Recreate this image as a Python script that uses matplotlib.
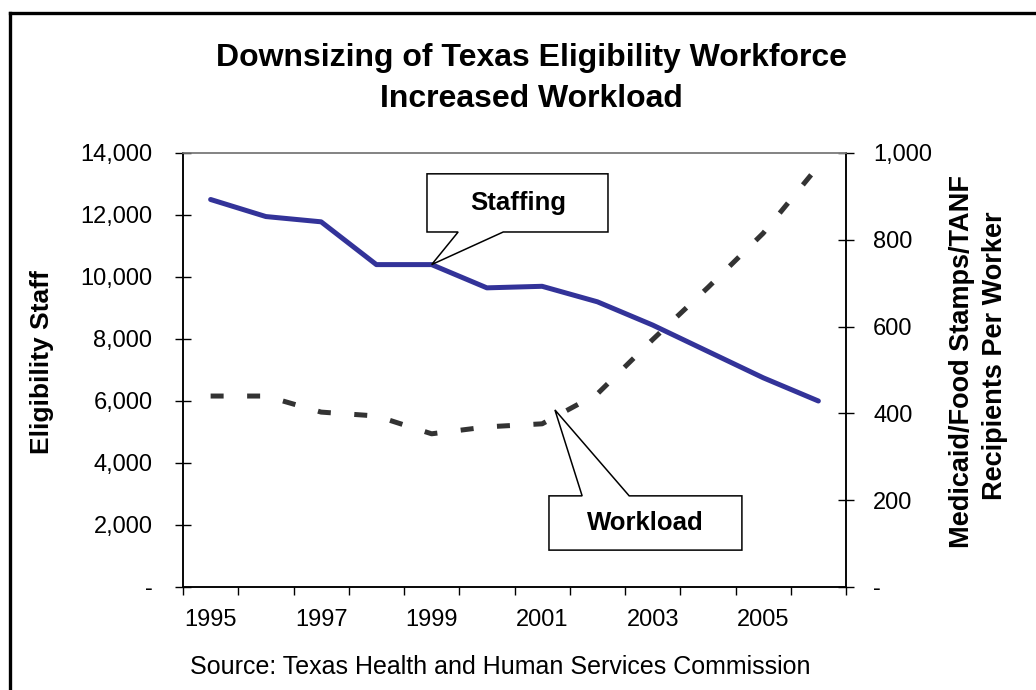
import matplotlib
matplotlib.use("Agg")
import matplotlib.pyplot as plt
from matplotlib.patches import Polygon
from matplotlib.lines import Line2D
from matplotlib.ticker import FuncFormatter

plt.rcParams['font.family'] = ['Liberation Sans', 'DejaVu Sans']

# data
years = [1995, 1996, 1997, 1998, 1999, 2000, 2001, 2002, 2003, 2004, 2005, 2006]
staffing = [12500, 11950, 11780, 10400, 10400, 9650, 9700, 9200, 8450, 7600, 6750, 6000]
workload = [440, 440, 403, 394, 353, 369, 376, 445, 570, 690, 815, 970]
year_labels = ['1995', '1997', '1999', '2001', '2003', '2005']

W, H = 1036, 690
fig = plt.figure(figsize=(W / 100, H / 100), dpi=100)
ax = fig.add_axes([183 / W, 1 - 587 / H, (846 - 183) / W, (587 - 153) / H])
ax2 = ax.twinx()

x = list(range(len(years)))


def fmt(v, pos):
    return '-' if v == 0 else f'{int(v):,}'


ax.plot(x, staffing, color='#333399', lw=3.6, solid_joinstyle='round',
        solid_capstyle='round', zorder=3)
ln, = ax2.plot(x, workload, color='#333333', lw=3.6, dash_capstyle='butt', zorder=3)
ln.set_dashes((2.6, 4.7))

ax.set_xlim(-0.5, len(years) - 0.5)
ax.set_ylim(0, 14000)
ax2.set_ylim(0, 1000)
ax.set_yticks(range(0, 14001, 2000))
ax2.set_yticks(range(0, 1001, 200))
ax.yaxis.set_major_formatter(FuncFormatter(fmt))
ax2.yaxis.set_major_formatter(FuncFormatter(fmt))

# tick marks between categories, labels on odd years
ax.set_xticks([i - 0.5 for i in range(len(years) + 1)])
ax.set_xticklabels([])
ax.set_xticks([years.index(int(y)) for y in year_labels], minor=True)
ax.set_xticklabels(year_labels, minor=True)
ax.tick_params(axis='x', which='major', direction='out', length=6, width=1)
ax.tick_params(axis='x', which='minor', length=0, pad=16, labelsize=17)
ax.tick_params(axis='y', direction='inout', length=12, width=1, pad=16, labelsize=17)
ax2.tick_params(axis='y', direction='inout', length=11, width=1, pad=14, labelsize=17)

for a in (ax, ax2):
    for s in a.spines.values():
        s.set_linewidth(1.1)
        s.set_color('black')
    a.spines['top'].set_color('#808080')

ax.set_zorder(ax2.get_zorder() + 1)
ax.patch.set_visible(False)


def callout(box, base, tip, label, tx, ty):
    (x0, x1, y0, y1), (b0, b1) = box, base
    pts = [(x0, y1), (x1, y1), (x1, y0), (b1, y0), tip, (b0, y0), (x0, y0)]
    if tip[1] > y0:  # pointer goes up from top edge
        pts = [(x0, y0), (x1, y0), (x1, y1), (b1, y1), tip, (b0, y1), (x0, y1)]
    ax.add_patch(Polygon(pts, closed=True, transform=ax.transAxes, facecolor='white',
                         edgecolor='black', lw=1.1, zorder=5))
    ax.text(tx, ty, label, transform=ax.transAxes, ha='center', va='center',
            fontsize=18.5, fontweight='bold', zorder=6)


# tip of staffing callout sits on the 1999 point
tip = ax.transAxes.inverted().transform(ax.transData.transform((years.index(1999), staffing[years.index(1999)])))
callout((0.368, 0.641, 0.818, 0.952), (0.415, 0.483), tuple(tip), 'Staffing', 0.505, 0.885)
callout((0.552, 0.843, 0.085, 0.210), (0.602, 0.673), (0.561, 0.408), 'Workload', 0.697, 0.147)

fig.text(531 / W, 1 - 58 / H, 'Downsizing of Texas Eligibility Workforce',
         ha='center', va='center', fontsize=23, fontweight='bold')
fig.text(531 / W, 1 - 99 / H, 'Increased Workload',
         ha='center', va='center', fontsize=23, fontweight='bold')
fig.text(42 / W, 1 - 362 / H, 'Eligibility Staff', rotation=90, ha='center', va='center',
         fontsize=19, fontweight='bold')
fig.text(962 / W, 1 - 362 / H, 'Medicaid/Food Stamps/TANF', rotation=90,
         ha='center', va='center', fontsize=19.5, fontweight='bold')
fig.text(995 / W, 1 - 356 / H, 'Recipients Per Worker', rotation=90,
         ha='center', va='center', fontsize=19.5, fontweight='bold')
fig.text(500 / W, 1 - 667 / H, 'Source: Texas Health and Human Services Commission',
         ha='center', va='center', fontsize=18)

# outer frame (top and left edges only visible)
fig.add_artist(Line2D([10 / W, 1.0], [1 - 13 / H, 1 - 13 / H], color='black', lw=2.4))
fig.add_artist(Line2D([10 / W, 10 / W], [0.0, 1 - 13 / H], color='black', lw=2.4))

fig.savefig('out.png', dpi=100)
